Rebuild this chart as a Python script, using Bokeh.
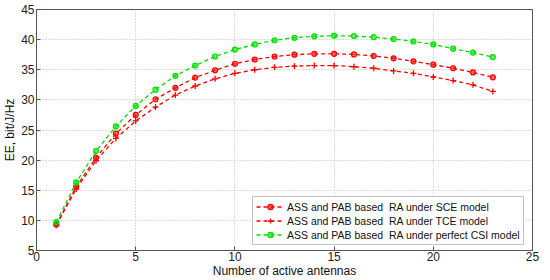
from bokeh.plotting import figure
from bokeh.models import Legend, LegendItem, FixedTicker, Range1d
from bokeh.embed import file_html
from bokeh.resources import INLINE

antennas = list(range(1, 24))
ee_sce = [9.3, 15.6, 20.4, 24.4, 27.5, 30.1, 32.0, 33.7, 34.9, 36.0, 36.7, 37.2,
          37.5, 37.65, 37.65, 37.55, 37.3, 36.9, 36.4, 35.85, 35.25, 34.55, 33.75]
ee_tce = [9.2, 15.2, 19.9, 23.6, 26.5, 28.8, 30.8, 32.3, 33.5, 34.4, 35.0, 35.4,
          35.6, 35.7, 35.7, 35.5, 35.25, 34.8, 34.4, 33.8, 33.2, 32.5, 31.4]
ee_csi = [9.7, 16.3, 21.5, 25.6, 29.0, 31.7, 34.0, 35.7, 37.2, 38.35, 39.2, 39.9,
          40.3, 40.55, 40.65, 40.6, 40.4, 40.1, 39.7, 39.2, 38.5, 37.85, 37.1]
labels = ["ASS and PAB based  RA under SCE model",
          "ASS and PAB based  RA under TCE model",
          "ASS and PAB based  RA under perfect CSI model"]
x_ticks = [0, 5, 10, 15, 20, 25]
y_ticks = [5, 10, 15, 20, 25, 30, 35, 40, 45]

FONT = "Liberation Sans"

p = figure(width=542, height=280, output_backend="svg", toolbar_location=None,
           x_range=Range1d(0, 25), y_range=Range1d(5, 45),
           min_border_left=26, min_border_right=10, min_border_top=9, min_border_bottom=20)
p.outline_line_color = "#555555"
p.outline_line_width = 1

for ax in (p.xaxis[0], p.yaxis[0]):
    ax.major_tick_in = 4
    ax.major_tick_out = 0
    ax.minor_tick_line_color = None
    ax.major_label_text_font = FONT
    ax.major_label_text_font_size = "12px"
    ax.major_label_text_color = "#222222"
    ax.axis_label_text_font = FONT
    ax.axis_label_text_font_size = "12px"
    ax.axis_label_text_font_style = "normal"
    ax.axis_label_text_color = "#111111"
    ax.axis_line_color = "#555555"
    ax.major_tick_line_color = "#555555"

p.xaxis.ticker = FixedTicker(ticks=x_ticks)
p.yaxis.ticker = FixedTicker(ticks=y_ticks)
p.xaxis.axis_label = "Number of active antennas"
p.yaxis.axis_label = "EE, bit/J/Hz"
p.xaxis.major_label_standoff = 1
p.yaxis.major_label_standoff = 2
p.xaxis.axis_label_standoff = 0
p.yaxis.axis_label_standoff = 1

for g in (p.xgrid[0], p.ygrid[0]):
    g.grid_line_color = "#bbbbbb"
    g.grid_line_dash = "1 2"
    g.grid_line_width = 1

RED = "#ff0000"
GREEN = "#00e000"

l1 = p.line(antennas, ee_sce, line_color=RED, line_width=1.3, line_dash="4 3")
m1 = p.scatter(antennas, ee_sce, marker="circle", size=5, line_color=RED, fill_color=RED,
               fill_alpha=0.6, line_width=1.2)
l2 = p.line(antennas, ee_tce, line_color=RED, line_width=1.3, line_dash="4 3")
m2 = p.scatter(antennas, ee_tce, marker="cross", size=6, line_color=RED, line_width=1.3)
l3 = p.line(antennas, ee_csi, line_color=GREEN, line_width=1.3, line_dash="4 3")
m3 = p.scatter(antennas, ee_csi, marker="circle", size=5, line_color=GREEN, fill_color=GREEN,
               fill_alpha=0.6, line_width=1.2)

legend = Legend(items=[LegendItem(label=labels[0], renderers=[l1, m1]),
                       LegendItem(label=labels[1], renderers=[l2, m2]),
                       LegendItem(label=labels[2], renderers=[l3, m3])],
                location=(216, 5))
legend.label_text_font = FONT
legend.label_text_font_size = "10.5px"
legend.label_text_color = "#111111"
legend.label_height = 13
legend.glyph_height = 13
legend.glyph_width = 28
legend.spacing = 1
legend.padding = 3
legend.margin = 0
legend.label_standoff = 3
legend.border_line_color = "#888888"
legend.background_fill_alpha = 1
p.add_layout(legend, "center")

open("out.html", "w").write(file_html(p, INLINE))
